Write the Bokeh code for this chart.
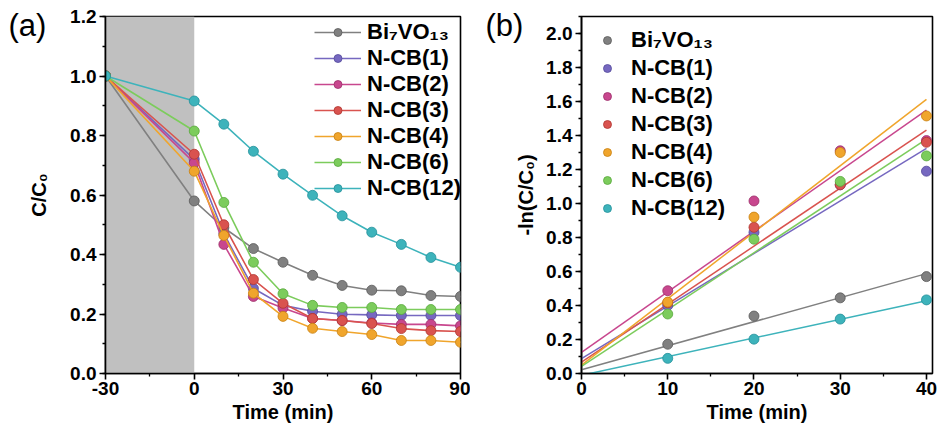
import numpy as np
from bokeh.plotting import figure
from bokeh.layouts import row
from bokeh.models import (Range1d, FixedTicker, NumeralTickFormatter, BoxAnnotation,
                          Legend, LegendItem, Title)
from bokeh.embed import file_html
from bokeh.resources import INLINE

# ---------------- data ----------------
names = ["Bi₇VO₁₃", "N-CB(1)", "N-CB(2)", "N-CB(3)", "N-CB(4)", "N-CB(6)", "N-CB(12)"]
colors = ["#808080", "#7668c0", "#c8478e", "#d9534f", "#f0a52c", "#7ccc5c", "#3db3bb"]
edge_colors = ["#5a5a5a", "#544a9a", "#9c2f6a", "#b03530", "#c88010", "#58a83c", "#24909a"]

# panel (a): C/C0 vs time
time_a = [-30, 0, 10, 20, 30, 40, 50, 60, 70, 80, 90]
bi7vo13_a = [1.0, 0.58, 0.49, 0.42, 0.374, 0.33, 0.296, 0.28, 0.278, 0.262, 0.259]
ncb1_a = [1.0, 0.72, 0.47, 0.286, 0.229, 0.209, 0.199, 0.197, 0.195, 0.195, 0.195]
ncb2_a = [1.0, 0.708, 0.434, 0.259, 0.22, 0.185, 0.178, 0.17, 0.165, 0.165, 0.16]
ncb3_a = [1.0, 0.737, 0.50, 0.316, 0.236, 0.185, 0.178, 0.168, 0.151, 0.144, 0.141]
ncb4_a = [1.0, 0.68, 0.464, 0.27, 0.192, 0.152, 0.141, 0.131, 0.111, 0.111, 0.105]
ncb6_a = [1.0, 0.815, 0.575, 0.374, 0.268, 0.229, 0.222, 0.222, 0.215, 0.215, 0.215]
ncb12_a = [1.0, 0.916, 0.838, 0.747, 0.67, 0.599, 0.53, 0.475, 0.434, 0.39, 0.357]
series_a = [bi7vo13_a, ncb1_a, ncb2_a, ncb3_a, ncb4_a, ncb6_a, ncb12_a]
dark_start, dark_end = -30, 0

# panel (b): -ln(C/C0) vs time
time_b = [0, 10, 20, 30, 40]
bi7vo13_b = [0, 0.172, 0.338, 0.445, 0.57]
ncb1_b = [0, 0.40, 0.83, 1.11, 1.19]
ncb2_b = [0, 0.487, 1.015, 1.31, 1.37]
ncb3_b = [0, 0.416, 0.86, 1.11, 1.36]
ncb4_b = [0, 0.42, 0.92, 1.30, 1.515]
ncb6_b = [0, 0.35, 0.79, 1.13, 1.28]
ncb12_b = [0, 0.089, 0.202, 0.32, 0.433]
series_b = [bi7vo13_b, ncb1_b, ncb2_b, ncb3_b, ncb4_b, ncb6_b, ncb12_b]

xticks_a = [-30, 0, 30, 60, 90]
xminor_a = [-15, 15, 45, 75]
yticks_a = [0.0, 0.2, 0.4, 0.6, 0.8, 1.0, 1.2]
xticks_b = [0, 10, 20, 30, 40]
xminor_b = [5, 15, 25, 35]
yticks_b = [0.0, 0.2, 0.4, 0.6, 0.8, 1.0, 1.2, 1.4, 1.6, 1.8, 2.0]

FONT = "Liberation Sans"


def style_axes(p, xt, xm, yt, ym):
    p.xaxis.ticker = FixedTicker(ticks=xt, minor_ticks=xm)
    p.yaxis.ticker = FixedTicker(ticks=yt, minor_ticks=ym)
    p.xaxis.formatter = NumeralTickFormatter(format="0")
    p.yaxis.formatter = NumeralTickFormatter(format="0.0")
    for ax in (p.xaxis[0], p.yaxis[0]):
        ax.axis_line_width = 1.6
        ax.axis_line_color = "black"
        ax.major_tick_line_width = 1.6
        ax.minor_tick_line_width = 1.3
        ax.major_tick_out = 6
        ax.major_tick_in = 0
        ax.minor_tick_out = 3
        ax.minor_tick_in = 0
        ax.major_label_text_font = FONT
        ax.major_label_text_font_style = "bold"
        ax.major_label_text_font_size = "19px"
        ax.major_label_text_color = "black"
        ax.axis_label_text_font = FONT
        ax.axis_label_text_font_style = "bold"
        ax.axis_label_text_font_size = "20px"
        ax.axis_label_text_color = "black"
    p.xgrid.visible = False
    p.ygrid.visible = False
    p.outline_line_color = "black"
    p.outline_line_width = 1.6
    p.outline_line_alpha = 1.0


def panel_title(text, offset):
    return Title(text=text, align="left", vertical_align="bottom", offset=offset,
                 standoff=-52, text_font=FONT, text_font_size="31px",
                 text_font_style="normal", text_color="black")


# ---------------- panel (a) ----------------
p1 = figure(width=470, height=437, output_backend="svg", toolbar_location=None,
            x_range=Range1d(-30, 90), y_range=Range1d(0, 1.2),
            min_border_left=105, min_border_right=10, min_border_top=16, min_border_bottom=64,
            background_fill_color="white", border_fill_color="white")
style_axes(p1, xticks_a, xminor_a, yticks_a, [v / 10 for v in range(0, 13)])
p1.xaxis.axis_label = "Time (min)"
p1.yaxis.axis_label = "C/C₀"
p1.xaxis.axis_label_standoff = 3
p1.yaxis.axis_label_standoff = 17
p1.xaxis.major_label_standoff = 2
p1.yaxis.major_label_standoff = 3

p1.add_layout(BoxAnnotation(left=dark_start, right=dark_end, fill_color="#c0c0c0",
                            fill_alpha=1.0, line_color=None, level="underlay"))

items_a = []
for name, ys, c, ec in zip(names, series_a, colors, edge_colors):
    ln = p1.line(time_a, ys, line_color=c, line_width=1.6)
    sc = p1.scatter(time_a, ys, size=10, fill_color=c, line_color=ec, line_width=0.8)
    items_a.append(LegendItem(label=name, renderers=[ln, sc]))

leg_a = Legend(items=items_a, location=(209, 172), glyph_width=47, glyph_height=20,
               label_height=25, spacing=0, label_standoff=6, padding=2, margin=0,
               border_line_color=None, background_fill_alpha=0.0,
               label_text_font=FONT, label_text_font_style="bold",
               label_text_font_size="22px", label_text_color="black")
p1.add_layout(leg_a)
p1.add_layout(panel_title("(a)", -97), "above")

# ---------------- panel (b) ----------------
p2 = figure(width=471, height=437, output_backend="svg", toolbar_location=None,
            x_range=Range1d(0, 40.7), y_range=Range1d(0, 2.1),
            min_border_left=111, min_border_right=9, min_border_top=16, min_border_bottom=64,
            background_fill_color="white", border_fill_color="white")
style_axes(p2, xticks_b, xminor_b, yticks_b, [v / 10 for v in range(0, 22)])
p2.xaxis.axis_label = "Time (min)"
p2.yaxis.axis_label = "-ln(C/C₀)"
p2.xaxis.axis_label_standoff = 3
p2.yaxis.axis_label_standoff = 6
p2.xaxis.major_label_standoff = 2
p2.yaxis.major_label_standoff = 3

items_b = []
tb = np.array(time_b, dtype=float)
for name, ys, c, ec in zip(names, series_b, colors, edge_colors):
    yb = np.array(ys, dtype=float)
    k, b0 = np.polyfit(tb, yb, 1)
    xs_fit = np.array([tb[0], tb[-1]])
    p2.line(xs_fit, k * xs_fit + b0, line_color=c, line_width=1.5)
for name, ys, c, ec in zip(names, series_b, colors, edge_colors):
    sc = p2.scatter(time_b[1:], ys[1:], size=10, fill_color=c, line_color=ec, line_width=0.8)
    items_b.append(LegendItem(label=name, renderers=[sc]))

leg_b = Legend(items=items_b, location=(16, 151), glyph_width=20, glyph_height=20,
               label_height=28, spacing=0, label_standoff=14, padding=2, margin=0,
               border_line_color=None, background_fill_alpha=0.0,
               label_text_font=FONT, label_text_font_style="bold",
               label_text_font_size="22px", label_text_color="black")
p2.add_layout(leg_b)
p2.add_layout(panel_title("(b)", -96), "above")

layout = row(p1, p2)
open("out.html", "w").write(file_html(layout, INLINE))
